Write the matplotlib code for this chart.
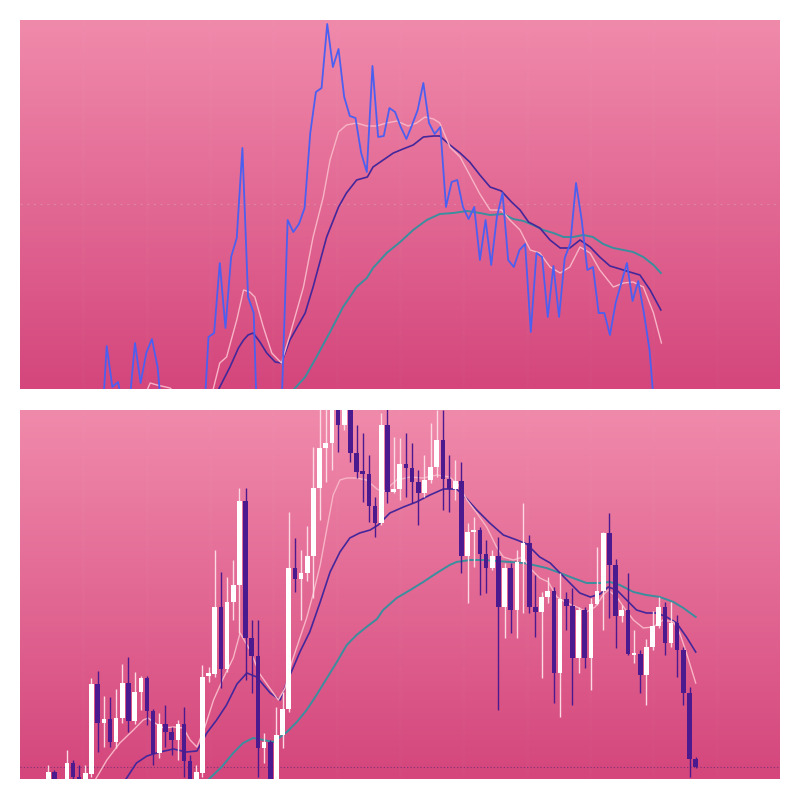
import numpy as np
import matplotlib
matplotlib.use("Agg")
import matplotlib.pyplot as plt
from matplotlib.colors import LinearSegmentedColormap

# ---------------- TOP PANEL DATA (line of closes) ----------------
top_first_index = -3
top_close = [-10, -15, -40, 54, 13, 18, -10, -5, 57, 17, 47, 61, 33, -30, -5, -10, 0, -8, -2, 2,
             -40, 63, 67, 137, 72, 143, 162, 252, 103, 87, -100, -10, -5, -20, 5, 180, 168, 176,
             192, 267, 308, 312, 376, 333, 351, 303, 284, 282, 247, 228, 334, 263, 264, 292, 288,
             273, 261, 275, 290, 317, 277, 266, 273, 193, 218, 220, 193, 181, 193, 140, 180, 135,
             183, 207, 140, 133, 150, 156, 68, 147, 143, 83, 134, 83, 142, 157, 217, 180, 130, 133,
             87, 87, 65, 97, 117, 137, 99, 119, 87, 50, -20]

top_fast_x = [7.0, 7.7, 8.9, 11.2, 15.0, 18.8, 20.0, 21.2, 23.0, 24.2, 25.3, 26.2, 27.7, 29.2, 30.9,
              32.4, 34.8, 36.5, 38.3, 39.5, 41.0, 42.4, 44.2, 46.0, 47.7, 49.5, 51.3, 53.3, 54.8,
              56.3, 57.8, 58.9, 60.7, 62.5, 64.2, 66.0, 67.8, 69.8, 71.3, 73.1, 74.9, 76.6, 78.4,
              80.2, 81.9, 83.7, 85.5, 87.2, 89.6, 91.4, 93.1, 94.9, 96.7, 98.1]
top_fast_v = [8, 17, 15, 12, -8, 10, 37, 43, 80, 110, 108, 103, 73, 47, 37,
              65, 113, 163, 203, 240, 268, 275, 277, 274, 274, 277, 279, 274, 277,
              283, 281, 277, 253, 243, 225, 206, 190, 190, 180, 170, 150, 147, 133,
              127, 133, 153, 147, 130, 113, 117, 118, 113, 87, 57]

top_mid_x = [19.3, 20.0, 21.8, 23.3, 24.2, 25.0, 25.9, 27.1, 28.3, 29.8, 30.9, 32.4, 35.1, 36.5,
             38.9, 41.0, 42.4, 44.2, 46.1, 47.1, 48.9, 50.7, 52.4, 54.2, 56.0, 57.8, 58.9, 60.7,
             62.5, 64.2, 66.0, 67.8, 69.8, 71.6, 73.1, 74.6, 76.6, 78.4, 80.2, 81.9, 83.7, 85.5,
             87.2, 89.0, 90.8, 92.5, 94.3, 96.1, 98.0]
top_mid_v = [5, 13, 33, 52, 60, 65, 67, 58, 47, 38, 37, 60, 87, 113,
             163, 193, 207, 220, 223, 233, 240, 247, 251, 255, 263, 264, 264, 255,
             247, 238, 225, 213, 209, 198, 190, 178, 172, 160, 152, 152, 160, 153,
             143, 134, 131, 128, 125, 110, 90]

top_slow_x = [31.0, 33.0, 35.1, 37.1, 39.5, 41.8, 44.2, 46.0, 47.1, 49.5, 51.9, 54.2, 56.6, 58.9,
              61.3, 63.7, 66.0, 67.8, 70.1, 71.9, 73.7, 75.4, 77.2, 79.0, 80.8, 82.5, 84.3, 86.0,
              87.8, 89.6, 91.4, 93.1, 94.9, 96.7, 98.0]
top_slow_v = [-5, 10, 23, 43, 68, 93, 113, 122, 132, 147, 158, 170, 180, 186,
              187, 189, 187, 185, 186, 181, 179, 175, 170, 167, 163, 163, 165, 163,
              156, 152, 150, 148, 143, 135, 127]
top_ref_level = 196

# ---------------- BOTTOM PANEL DATA (candles) ----------------
opens = [15, 28, 10, 20, 37, 23, 12, 26, 116, 77, 81, 58, 82, 117, 79, 108, 122, 89, 47, 76,
         68, 60, 76, 39, 12, 27, 124, 126, 193, 131, 198, 215, 299, 162, 144, 52, 58, 10, 65, 91,
         232, 221, 227, 244, 312, 352, 357, 405, 375, 400, 347, 329, 326, 294, 277, 375, 308, 311,
         336, 332, 318, 307, 320, 333, 360, 321, 311, 319, 244, 268, 270, 246, 232, 244, 193, 232,
         190, 238, 257, 193, 188, 203, 209, 127, 201, 194, 142, 190, 142, 196, 209, 267, 235, 184,
         190, 145, 146, 125, 153, 174, 193, 157, 177, 150, 107, 41]
highs = [35, 30, 18, 50, 40, 35, 35, 122, 129, 104, 103, 111, 136, 143, 128, 124, 124, 91, 87, 95,
         73, 80, 93, 45, 35, 135, 133, 250, 228, 223, 240, 312, 312, 180, 180, 67, 60, 93, 108, 288,
         262, 250, 274, 353, 392, 395, 415, 415, 410, 410, 375, 367, 345, 303, 387, 395, 363, 362,
         367, 357, 330, 345, 377, 390, 390, 345, 340, 338, 277, 283, 273, 260, 250, 263, 237, 237,
         250, 297, 265, 225, 208, 223, 213, 227, 208, 212, 193, 193, 202, 253, 268, 287, 241, 195,
         227, 170, 150, 161, 189, 203, 198, 198, 185, 153, 113, 43]
lows = [10, 10, 5, 15, 15, 8, 8, 23, 48, 53, 53, 52, 77, 68, 76, 90, 75, 35, 42, 53,
        45, 40, 23, 5, 5, 23, 118, 123, 112, 128, 180, 167, 120, 107, 23, 37, 5, 5, 52, 88,
        208, 180, 219, 202, 280, 318, 330, 348, 370, 338, 322, 298, 278, 263, 275, 297, 307, 300,
        303, 297, 275, 303, 317, 323, 290, 288, 300, 227, 197, 233, 205, 207, 230, 90, 162, 167,
        162, 187, 187, 163, 122, 197, 97, 83, 170, 95, 127, 132, 110, 195, 170, 182, 152, 178,
        145, 137, 107, 95, 150, 172, 145, 153, 123, 95, 23, 32]
closes = [28, 15, 14, 37, 23, 12, 27, 116, 77, 81, 58, 82, 117, 79, 108, 122, 89, 46, 76, 68,
          60, 76, 39, 10, 28, 123, 127, 193, 131, 198, 215, 299, 162, 144, 52, 58, 10, 65, 91, 232,
          221, 227, 244, 312, 352, 357, 405, 375, 400, 347, 328, 326, 294, 277, 375, 308, 311, 336,
          332, 318, 307, 320, 333, 360, 321, 311, 319, 244, 268, 270, 246, 232, 244, 193, 232, 190,
          238, 257, 193, 188, 203, 209, 127, 201, 194, 142, 190, 142, 196, 209, 267, 235, 184, 190,
          146, 147, 125, 153, 174, 193, 157, 177, 150, 107, 41, 33]

bot_fast_x = [7.6, 9.5, 11.6, 13.8, 15.4, 16.2, 17.0, 18.7, 20.3, 21.9, 23.0, 24.1, 25.4, 26.8,
              28.4, 30.0, 31.1, 32.7, 34.3, 35.9, 37.3, 38.4, 39.5, 40.8, 41.9, 43.0, 44.1, 45.2,
              46.2, 47.3, 48.4, 50.0, 51.6, 53.3, 54.3, 56.5, 58.7, 60.8, 63.0, 65.1, 66.5, 67.9,
              69.5, 71.1, 72.7, 73.8, 75.4, 77.0, 78.1, 79.7, 81.1, 82.5, 84.1, 85.7, 87.3, 88.7,
              90.0, 90.8, 92.2, 93.3, 94.9, 96.5, 98.1, 99.7, 101.4, 102.4, 103.5, 105.0]
bot_fast_v = [20, 40, 57, 70, 80, 82, 78, 72, 73, 72, 60, 53, 73, 100,
              122, 142, 167, 150, 126, 112, 100, 112, 138, 162, 182, 207, 235, 272,
              305, 320, 322, 322, 320, 311, 308, 320, 323, 322, 325, 323, 315, 300,
              287, 273, 253, 243, 240, 243, 232, 222, 218, 203, 197, 193, 188, 193,
              205, 210, 203, 193, 180, 172, 173, 180, 178, 167, 147, 117]

bot_mid_x = [12.5, 14.3, 16.0, 18.1, 20.3, 22.4, 24.1, 25.7, 27.3, 28.9, 30.6, 32.2, 33.8, 36.0,
             37.6, 38.7, 39.7, 40.8, 42.4, 44.1, 45.7, 47.3, 48.9, 50.5, 52.2, 53.5, 55.4, 57.6,
             59.7, 61.9, 64.1, 66.2, 67.3, 69.5, 71.6, 73.8, 76.0, 77.6, 79.7, 81.4, 83.0, 84.6,
             86.2, 87.9, 89.5, 90.8, 92.2, 93.8, 95.4, 97.0, 98.7, 100.3, 101.9, 103.5, 105.0]
bot_mid_v = [20, 37, 44, 48, 51, 48, 49, 67, 80, 95, 116, 127, 123, 107,
             100, 118, 132, 148, 168, 198, 228, 248, 262, 267, 270, 275, 287, 293,
             298, 305, 311, 311, 305, 290, 277, 265, 260, 256, 243, 237, 227, 217,
             207, 203, 206, 213, 210, 200, 190, 187, 187, 183, 177, 163, 148]

bot_slow_x = [25.9, 28.1, 30.0, 31.6, 33.2, 34.9, 36.5, 38.7, 40.3, 41.9, 43.5, 45.2, 46.8, 48.4,
              50.0, 51.6, 53.3, 54.3, 56.5, 58.7, 60.8, 63.0, 65.1, 66.2, 68.4, 70.5, 72.7, 74.9,
              77.0, 78.7, 80.8, 83.0, 85.1, 87.3, 89.5, 91.1, 92.7, 94.9, 97.0, 99.2, 101.4, 103.0,
              105.0]
bot_slow_v = [20, 33, 47, 57, 62, 60, 58, 68, 78, 90, 105, 122, 138, 155,
              165, 173, 181, 190, 202, 210, 218, 227, 235, 238, 240, 240, 239, 238,
              237, 235, 232, 227, 222, 217, 217, 218, 215, 208, 205, 203, 198, 192,
              183]

# ---------------- STYLE ----------------
BG_TOP = "#f08aab"
BG_BOT = "#d4467c"
BLUE = "#4b60f0"
PINK = "#f7b4c6"
PURPLE = "#44279a"
TEAL = "#3a8e9e"
DOWN = "#4a1a8e"
UP = "#ffffff"
UP_WICK = "#fbd9e3"

fig = plt.figure(figsize=(8, 8), dpi=100, facecolor="white")
ax1 = fig.add_axes([20 / 800, 1 - 389 / 800, 760 / 800, 369 / 800])
ax2 = fig.add_axes([20 / 800, 1 - 779 / 800, 760 / 800, 369 / 800])

cmap = LinearSegmentedColormap.from_list("bg", [BG_TOP, BG_BOT])
grad = np.linspace(0, 1, 256).reshape(-1, 1)


def setup(ax, xlim, ylim):
    ax.imshow(grad, cmap=cmap, aspect="auto", extent=[xlim[0], xlim[1], ylim[0], ylim[1]],
              origin="upper", zorder=0, interpolation="bicubic")
    ax.set_xlim(*xlim)
    ax.set_ylim(*ylim)
    for s in ax.spines.values():
        s.set_visible(False)
    ax.set_xticks([])
    ax.set_yticks([])
    # barely visible vertical grid bands
    xs = np.linspace(xlim[0], xlim[1], 13)[1:-1]
    for xv in xs:
        ax.axvline(xv, color="white", lw=2.5, alpha=0.015, zorder=0.5)


# Top panel
setup(ax1, (-15.33, 119.07), (11, 380))
tx = np.arange(top_first_index, top_first_index + len(top_close))
ax1.axhline(top_ref_level, color="#d9b0c0", lw=0.8, ls=(0, (2, 4)), alpha=0.4, zorder=1)
ax1.plot(top_slow_x, top_slow_v, color=TEAL, lw=1.4, zorder=2)
ax1.plot(top_mid_x, top_mid_v, color=PURPLE, lw=1.2, zorder=3)
ax1.plot(top_fast_x, top_fast_v, color=PINK, lw=1.0, zorder=4)
ax1.plot(tx, top_close, color=BLUE, lw=1.3, zorder=5)

# Bottom panel
setup(ax2, (-4.59, 118.67), (21, 390))
k = np.arange(len(opens))
o = np.array(opens, float)
c = np.array(closes, float)
h = np.array(highs, float)
l = np.array(lows, float)
up = c >= o
ax2.axhline(closes[-1], color="#6a2a78", lw=0.8, ls=(0, (1, 2)), alpha=0.8, zorder=1)
ax2.vlines(k[up], l[up], h[up], color=UP_WICK, lw=1.0, zorder=3)
ax2.vlines(k[~up], l[~up], h[~up], color=DOWN, lw=1.0, zorder=3)
ax2.plot(bot_slow_x, bot_slow_v, color=TEAL, lw=1.4, zorder=2)
ax2.plot(bot_mid_x, bot_mid_v, color=PURPLE, lw=1.2, zorder=2)
ax2.plot(bot_fast_x, bot_fast_v, color=PINK, lw=1.0, zorder=2)
body_bottom = np.minimum(o, c)
body_h = np.maximum(np.abs(c - o), 1.5)
ax2.bar(k[up], body_h[up], bottom=body_bottom[up], width=0.74, color=UP, lw=0, zorder=4)
ax2.bar(k[~up], body_h[~up], bottom=body_bottom[~up], width=0.74, color=DOWN, lw=0, zorder=4)

fig.savefig("out.png", dpi=100, facecolor="white")
